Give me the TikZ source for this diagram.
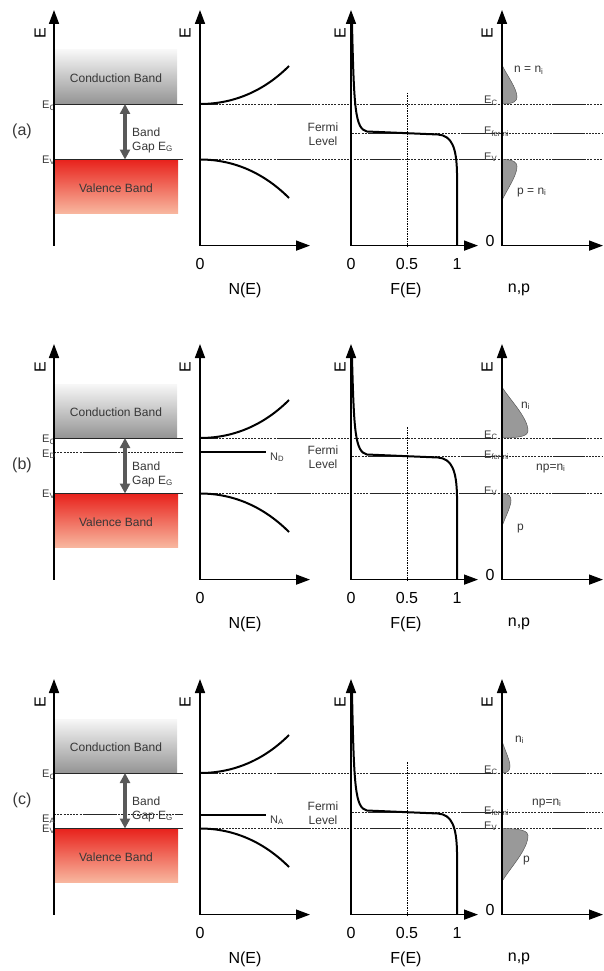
\documentclass[tikz,border=0pt]{standalone}
\usepackage{fontspec}
\setmainfont{Liberation Sans}
\usetikzlibrary{arrows.meta}
\definecolor{vbtop}{RGB}{232,34,28}
\definecolor{vbbot}{RGB}{248,182,158}
\definecolor{txt}{RGB}{55,55,55}
\tikzset{
  axis/.style={line width=1.6pt,{Triangle[width=10pt,length=14pt]}-{Triangle[width=10pt,length=14pt]}},
  yaxis/.style={line width=1.6pt,-{Triangle[width=10pt,length=14pt]}},
  curve/.style={line width=2pt},
  bandedge/.style={line width=0.6pt,black!85},
  lvl/.style={line width=0.6pt,black!85,dash pattern=on 2pt off 1.2pt,
    postaction={draw,dash pattern=on 31.7pt off 60pt,dash phase=#1}},
  lvl/.default=0,
  half/.style={line width=0.6pt,dash pattern=on 1.5pt off 1pt},
  gap/.style={line width=3.5pt,black!65,{Triangle[width=10pt,length=10pt]}-{Triangle[width=10pt,length=10pt]}},
  carrier/.style={fill=black!40,draw=black!65,line width=0.5pt},
  dopant/.style={line width=2pt},
  lbl/.style={font=\fontsize{12}{14}\selectfont,text=txt,inner sep=0pt},
  elbl/.style={font=\fontsize{11}{12}\selectfont,text=txt,inner sep=0pt,anchor=base west},
  big/.style={font=\fontsize{16}{18}\selectfont,inner sep=0pt},
  elab/.style={font=\fontsize{16}{18}\selectfont,rotate=90,inner sep=0pt}
}
% common part of one row: #1 name, #2 Fermi level
\newcommand{\panel}[2]{%
  \coordinate (#1bo) at (54,245.6);  \coordinate (#1bt) at (54,10);
  \coordinate (#1do) at (200,245.6); \coordinate (#1dt) at (200,10); \coordinate (#1dx) at (310,245.6);
  \coordinate (#1fo) at (351,245.6); \coordinate (#1ft) at (351,10); \coordinate (#1fx) at (478,245.6);
  \coordinate (#1no) at (502,245.6); \coordinate (#1nt) at (502,10); \coordinate (#1nx) at (603,245.6);
  \coordinate (#1c0) at (54,104);  \coordinate (#1c1) at (183,104);
  \coordinate (#1c2) at (200,104); \coordinate (#1c3) at (603,104);
  \coordinate (#1v0) at (54,159.5);  \coordinate (#1v1) at (183,159.5);
  \coordinate (#1v2) at (200,159.5); \coordinate (#1v3) at (603,159.5);
  \coordinate (#1f0) at (352,#2); \coordinate (#1f1) at (603,#2);
  % bands
  \shade[top color=black!3,bottom color=black!42] (55,50) rectangle (177,104);
  \shade[top color=vbtop,bottom color=vbbot] (55,159.5) rectangle (178,213);
  % levels
  \draw[bandedge] (#1c0) -- (#1c1);
  \draw[bandedge] (#1v0) -- (#1v1);
  \draw[lvl=13.7] (#1c2) -- (#1c3);
  \draw[lvl=13.7] (#1v2) -- (#1v3);
  \draw[lvl=74] (#1f0) -- (#1f1);
  \draw[half] (407,93) -- (407,245.6);
  % gap arrow
  \coordinate (#1g1) at (125,104); \coordinate (#1g2) at (125,159.5);
  \draw[gap] (#1g1) -- (#1g2);
  % density of states
  \draw[curve] (#1c2) .. controls (235,104) and (265,90) .. (289,66);
  \draw[curve] (#1v2) .. controls (235,159.5) and (265,174) .. (289,198);
  % Fermi function
  \draw[curve] (352,24) .. controls (354,#2-25) and (355,#2-4) .. (367,#2-1.5)
    -- (438,#2+1.5) .. controls (452,#2+2.5) and (456.5,#2+15) .. (457,#2+40) -- (457,245.6);
  % texts
  \node[lbl] (#1cb) at (116,78) {Conduction Band};
  \node[lbl] (#1vb) at (116,188) {Valence Band};
  \node[lbl,anchor=west,align=left] (#1bg) at (132,140) {Band\\Gap E\textsubscript{G}};
  \node[elbl] (#1ec) at (42,108.5) {E\textsubscript{C}};
  \node[elbl] (#1ev) at (42,163) {E\textsubscript{V}};
  \node[lbl,align=center] (#1fl) at (323,#2+1) {Fermi\\Level};
  \node[elbl] (#1rc) at (484,104) {E\textsubscript{C}};
  \node[elbl] (#1rf) at (484,#2+2) {E\textsubscript{fermi}};
  \node[elbl] (#1rv) at (484,160) {E\textsubscript{V}};
  \node[elab] (#1e1) at (40,33) {E};
  \node[elab] (#1e2) at (185,33) {E};
  \node[elab] (#1e3) at (340,33) {E};
  \node[elab] (#1e4) at (487,33) {E};
  \node[big] (#1z1) at (200,264) {0};
  \node[big] (#1z2) at (351,264) {0};
  \node[big] (#1hf) at (407,264) {0.5};
  \node[big] (#1on) at (457,264) {1};
  \node[big] (#1z3) at (490,241) {0};
  \node[big] (#1ne) at (245,290) {N(E)};
  \node[big] (#1fe) at (406,290) {F(E)};
  \node[big] (#1np) at (519,290) {n,p};
}
% electrons above E_C: #1 E_C, #2 height, #3 width
\newcommand{\ndist}[3]{%
  \filldraw[carrier] (502,#1) .. controls (502+0.8*#3,#1) and (502+#3,#1-3) .. (502+#3,#1-7)
    .. controls (502+#3,#1-0.4*#2) and (502+0.3*#3,#1-0.75*#2) .. (502,#1-#2) -- cycle;}
% holes below E_V
\newcommand{\pdist}[3]{%
  \filldraw[carrier] (502,#1) .. controls (502+0.8*#3,#1) and (502+#3,#1+3) .. (502+#3,#1+7)
    .. controls (502+#3,#1+0.4*#2) and (502+0.3*#3,#1+0.75*#2) .. (502,#1+#2) -- cycle;}
% axes of one row
\newcommand{\axes}[1]{%
  \draw[yaxis] (#1bo) -- (#1bt);
  \draw[axis] (#1dt) -- (#1do) -- (#1dx);
  \draw[axis] (#1ft) -- (#1fo) -- (#1fx);
  \draw[axis] (#1nt) -- (#1no) -- (#1nx);}

\begin{document}
\begin{tikzpicture}[x=1pt,y=-1pt]
\useasboundingbox (0,0) rectangle (603,971);

% (a) intrinsic
\begin{scope}
  \panel{a}{133}
  \ndist{104}{39}{15}
  \pdist{159.5}{41}{15}
  \axes{a}
  \node[lbl,font=\fontsize{16}{18}\selectfont] (alab) at (22,131) {(a)};
  \node[lbl,anchor=base west] (an) at (514,73) {n = n\textsubscript{i}};
  \node[lbl,anchor=base west] (ap) at (517,194) {p = n\textsubscript{i}};
\end{scope}

% (b) donor level
\begin{scope}[shift={(0,334)}]
  \coordinate (bd0) at (54,118); \coordinate (bd1) at (183,118);
  \draw[lvl=62.7] (bd0) -- (bd1);
  \panel{b}{122}
  \ndist{104}{51}{26}
  \pdist{159.5}{33}{9}
  \axes{b}
  \coordinate (bn0) at (200,118); \coordinate (bn1) at (266,118);
  \draw[dopant] (bn0) -- (bn1);
  \node[elbl] (bnd) at (270,126) {N\textsubscript{D}};
  \node[elbl] (bed) at (42,123) {E\textsubscript{D}};
  \node[lbl,font=\fontsize{16}{18}\selectfont] (blab) at (22,131) {(b)};
  \node[lbl,anchor=base west] (bn) at (521,74) {n\textsubscript{i}};
  \node[lbl,anchor=base west] (bnp) at (536,136) {np=n\textsubscript{i}};
  \node[lbl,anchor=base west] (bp) at (517,196) {p};
\end{scope}

% (c) acceptor level
\begin{scope}[shift={(0,669)}]
  \coordinate (ca0) at (54,145); \coordinate (ca1) at (183,145);
  \draw[lvl=62.7] (ca0) -- (ca1);
  \panel{c}{143}
  \ndist{104}{32}{8}
  \pdist{159.5}{53}{26}
  \axes{c}
  \coordinate (cn0) at (200,146); \coordinate (cn1) at (266,146);
  \draw[dopant] (cn0) -- (cn1);
  \node[elbl] (cna) at (270,154) {N\textsubscript{A}};
  \node[elbl] (cea) at (42,153) {E\textsubscript{A}};
  \node[lbl,font=\fontsize{16}{18}\selectfont] (clab) at (22,131) {(c)};
  \node[lbl,anchor=base west] (cn) at (515,73) {n\textsubscript{i}};
  \node[lbl,anchor=base west] (cnp) at (532,136) {np=n\textsubscript{i}};
  \node[lbl,anchor=base west] (cp) at (523,193) {p};
\end{scope}
\end{tikzpicture}
\end{document}
